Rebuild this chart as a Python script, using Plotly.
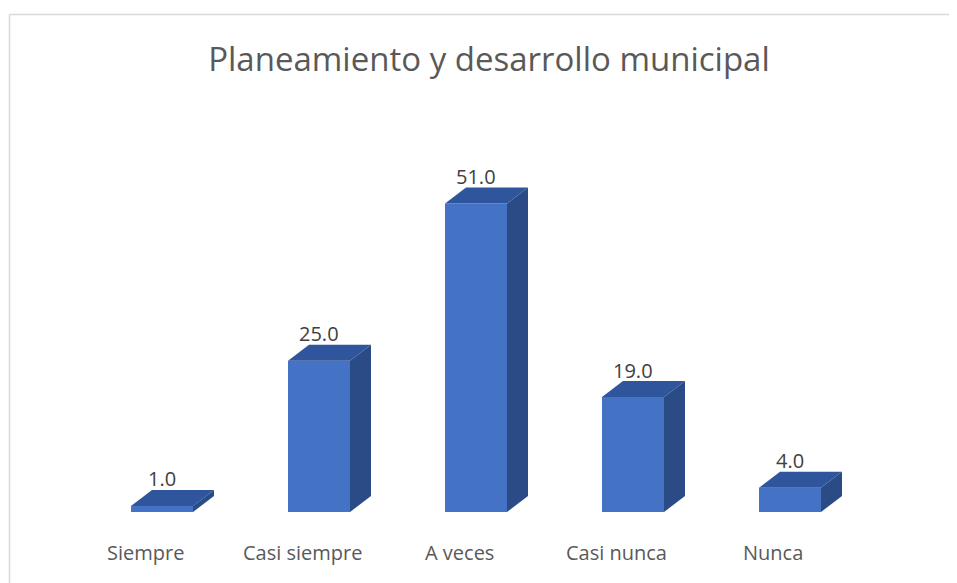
import plotly.graph_objects as go

categories = ["Siempre", "Casi siempre", "A veces", "Casi nunca", "Nunca"]
values = [1.0, 25.0, 51.0, 19.0, 4.0]
title_text = "Planeamiento y desarrollo municipal"

W, H = 957, 583
OFF = 8  # page body margin offset

# target layout in screen pixels
scr_left, scr_top, scr_base = 10, 100, 512
first_center, spacing = 162, 157
px_per_y = 6.05

L = scr_left - OFF
T = scr_top - OFF
B = H - (scr_base - OFF)
R = 2
plot_w = W - L - R
plot_h = H - T - B
x0r = (scr_left - first_center) / spacing
x_range = [x0r, x0r + plot_w / spacing]
y_range = [0, plot_h / px_per_y]

bar_w = 62 / spacing
dx = 21 / spacing
dy = 16 / px_per_y

FRONT = "#4472C4"
TOP = "#2F569D"
SIDE = "#2B4B86"
FONT = "Open Sans, Lato, sans-serif"

fig = go.Figure()

xs = list(range(len(categories)))
fig.add_trace(go.Bar(x=xs, y=values, width=bar_w, marker=dict(color=FRONT, line=dict(width=0)),
                     hoverinfo="skip", showlegend=False))

for i, v in enumerate(values):
    x0, x1 = i - bar_w / 2, i + bar_w / 2
    fig.add_trace(go.Scatter(x=[x0, x1, x1 + dx, x0 + dx, x0], y=[v, v, v + dy, v + dy, v],
                             fill="toself", fillcolor=TOP, mode="lines", line=dict(width=0, color=TOP),
                             hoverinfo="skip", showlegend=False))
    fig.add_trace(go.Scatter(x=[x1, x1 + dx, x1 + dx, x1, x1], y=[0, dy, v + dy, v, 0],
                             fill="toself", fillcolor=SIDE, mode="lines", line=dict(width=0, color=SIDE),
                             hoverinfo="skip", showlegend=False))
    fig.add_annotation(x=i, y=v + dy, text=f"{v:.1f}", showarrow=False, yanchor="middle", yshift=11,
                       font=dict(family=FONT, size=20, color="#404040"))
    fig.add_annotation(x=i, y=0, text=categories[i], showarrow=False, yanchor="middle", yshift=-40,
                       xshift=-17, font=dict(family=FONT, size=20, color="#595959"))

bx0 = (9.5 - OFF - L) / plot_w
by0 = 1 + (T - (14.5 - OFF)) / plot_h
fig.add_shape(type="line", xref="paper", yref="paper", x0=bx0, x1=1.1, y0=by0, y1=by0,
              line=dict(color="#D9D9D9", width=1.5))
fig.add_shape(type="line", xref="paper", yref="paper", x0=bx0, x1=bx0, y0=by0, y1=-0.3,
              line=dict(color="#D9D9D9", width=1.5))

fig.update_layout(
    width=W, height=H,
    margin=dict(l=L, r=R, t=T, b=B),
    paper_bgcolor="white", plot_bgcolor="white",
    title=dict(text=title_text, x=(489 - OFF) / W, xref="paper", xanchor="center",
               y=1 - (59 - OFF) / H, yanchor="middle",
               font=dict(family=FONT, size=33, color="#595959")),
    xaxis=dict(range=x_range, showgrid=False, zeroline=False, showticklabels=False, showline=False,
               fixedrange=True),
    yaxis=dict(range=y_range, showgrid=False, zeroline=False, showticklabels=False, showline=False,
               fixedrange=True),
    barmode="overlay",
)

fig.write_html("out.html")
